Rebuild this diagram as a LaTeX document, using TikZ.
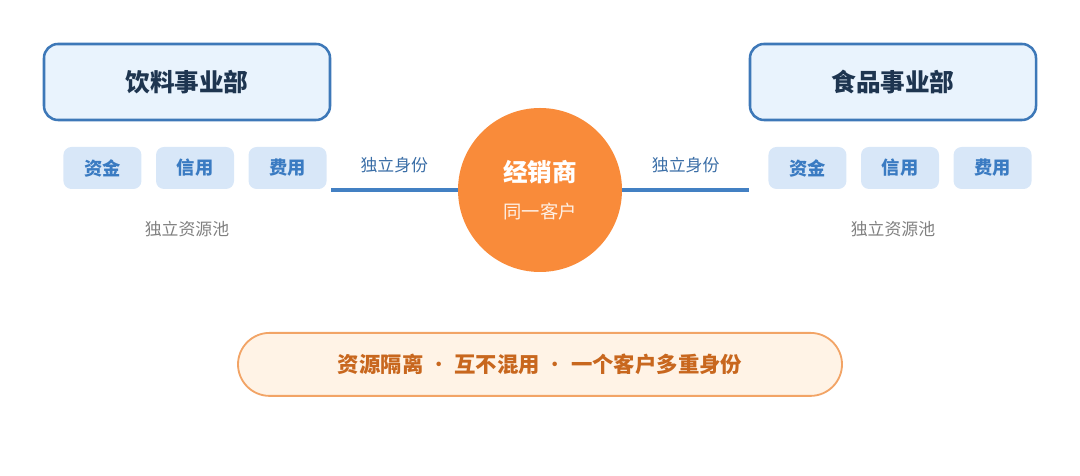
\documentclass[tikz,border=0pt]{standalone}
\usepackage{fontspec}
\setmainfont{Noto Sans CJK SC}
\usepackage{xcolor}
\usetikzlibrary{positioning}
\definecolor{deptline}{HTML}{3D78B8}
\definecolor{deptfill}{HTML}{E9F3FD}
\definecolor{deptText}{HTML}{1E3550}
\definecolor{poolfill}{HTML}{D8E7F8}
\definecolor{poolText}{HTML}{3A7BC2}
\definecolor{linkblue}{HTML}{4380C3}
\definecolor{dealer}{HTML}{F98B3A}
\definecolor{noteline}{HTML}{F2A466}
\definecolor{notefill}{HTML}{FFF3E6}
\definecolor{noteText}{HTML}{C8671E}
\newcommand{\sepdot}{\ {\mdseries ·}\ }
\tikzset{
  dept/.style={draw=deptline, line width=1.8pt, fill=deptfill, rounded corners=0.35cm,
    minimum width=7.15cm, minimum height=1.9cm, font=\fontsize{17.5}{20}\selectfont\bfseries, text=deptText},
  pool/.style={fill=poolfill, rounded corners=0.2cm, minimum width=1.95cm, minimum height=1.05cm,
    font=\fontsize{13}{15}\selectfont\bfseries, text=poolText},
  poollab/.style={font=\fontsize{12}{14}\selectfont, text=black!50},
  idlab/.style={font=\fontsize{12}{14}\selectfont, text=linkblue!85!black},
  link/.style={draw=linkblue, line width=2.8pt},
  note/.style={draw=noteline, line width=1.3pt, fill=notefill, rounded corners=0.79cm,
    minimum width=15.1cm, minimum height=1.575cm, font=\fontsize{15.2}{17}\selectfont\bfseries, text=noteText},
}
\begin{document}
\begin{tikzpicture}
\useasboundingbox (0,0) rectangle (27,11.9);
% two divisions
\node[dept] (drink) at (4.675,9.85) {饮料事业部};
\node[dept] (food) at (22.325,9.85) {食品事业部};
% resource pools
\node[pool] (dcredit) at (4.875,7.7) {信用};
\node[pool, left=0.35cm of dcredit] (dfund) {资金};
\node[pool, right=0.35cm of dcredit] (dcost) {费用};
\node[pool] (fcredit) at (22.5,7.7) {信用};
\node[pool, left=0.35cm of fcredit] (ffund) {资金};
\node[pool, right=0.35cm of fcredit] (fcost) {费用};
\node[poollab] (dpool) at (4.675,6.175) {独立资源池};
\node[poollab] (fpool) at (22.325,6.175) {独立资源池};
% dealer
\node[circle, fill=dealer, minimum size=4.1cm, inner sep=0pt, align=center, text=white] (dealer) at (13.5,7.15)
  {{\fontsize{17.5}{20}\selectfont\bfseries 经销商}\\[0.45cm]{\fontsize{13}{15}\selectfont\color{white!88!dealer} 同一客户}};
\coordinate (lstart) at (8.275,7.15);
\coordinate (rend) at (18.725,7.15);
\draw[link] (lstart) -- (dealer) node[idlab, midway, above=0.26cm] (lid) {独立身份};
\draw[link] (dealer) -- (rend) node[idlab, midway, above=0.26cm] (rid) {独立身份};
% summary
\node[note] (summary) at (13.5,2.79) {资源隔离\sepdot 互不混用\sepdot 一个客户多重身份};
\end{tikzpicture}
\end{document}
